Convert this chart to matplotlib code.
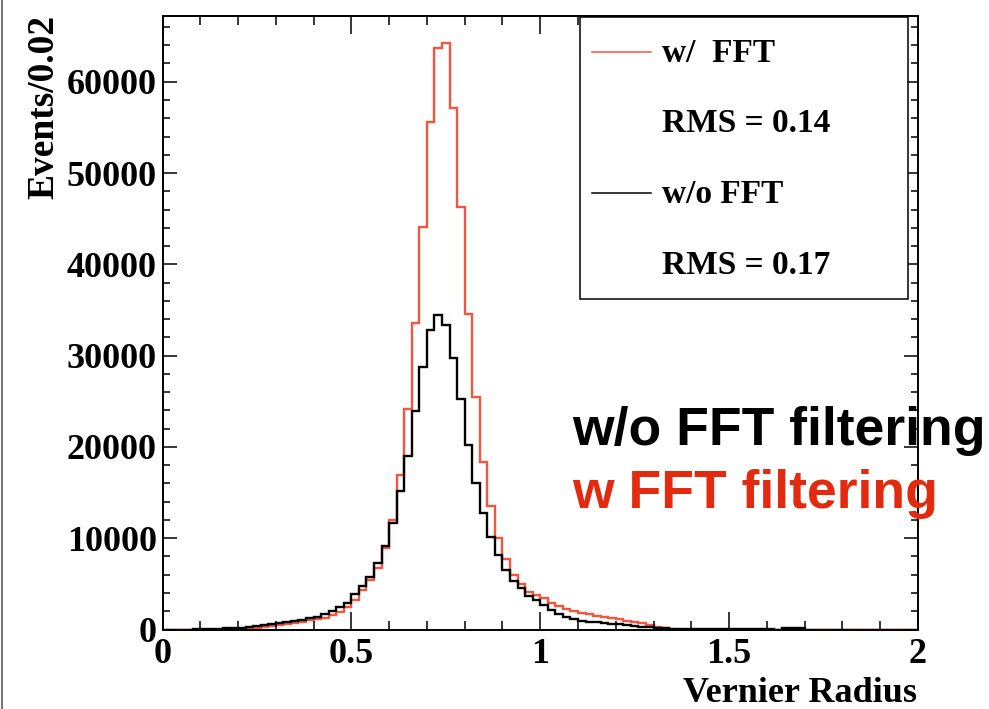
import numpy as np
import matplotlib
matplotlib.use("Agg")
import matplotlib.pyplot as plt
from matplotlib.patches import Rectangle
from matplotlib.lines import Line2D
from matplotlib.ticker import MultipleLocator

# binning: 100 bins of 0.02 between 0 and 2
x_lo, x_hi, n_bins = 0.0, 2.0, 100

# events per bin, with FFT filtering (red)
events_fft = [
    0, 0, 0, 0, 0, 0, 0, 0, 0, 0,
    0, 150, 200, 300, 380, 490, 580, 700, 850, 1000,
    1200, 1300, 1600, 1950, 2450, 3250, 4380, 5475, 6750, 8900,
    11970, 16880, 24150, 33600, 44100, 55600, 63700, 64200, 57100, 46300,
    34600, 25500, 18400, 13500, 10000, 7750, 5920, 4950, 4100, 3800,
    3450, 2940, 2580, 2250, 2030, 1840, 1680, 1530, 1390, 1260,
    1140, 950, 800, 660, 470, 300, 150, 100, 0, 0,
    0, 0, 0, 0, 0, 0, 0, 0, 0, 0,
    0, 0, 0, 0, 0, 0, 0, 0, 0, 0,
    0, 0, 0, 0, 0, 0, 0, 0, 0, 0,
]

# events per bin, without FFT filtering (black)
events_nofft = [
    0, 0, 0, 0, 60, 80, 90, 100, 120, 150,
    180, 250, 350, 480, 600, 760, 850, 950, 1080, 1290,
    1400, 1720, 2040, 2480, 2940, 3880, 4740, 5750, 7330, 9200,
    11680, 15220, 19050, 23900, 28730, 32800, 34400, 33400, 29750, 25260,
    20260, 16060, 12780, 10150, 8130, 6550, 5260, 4530, 3700, 3200,
    2650, 2120, 1680, 1390, 1140, 950, 850, 780, 660, 600,
    560, 470, 380, 300, 220, 150, 120, 100, 90, 80,
    70, 60, 50, 50, 40, 40, 30, 30, 30, 20,
    20, 0, 150, 150, 150, 0, 0, 0, 0, 0,
    0, 0, 0, 0, 0, 0, 0, 0, 0, 0,
]

legend_labels = ["w/  FFT", "w/o FFT"]
rms_labels = ["RMS = 0.14", "RMS = 0.17"]

W, H = 989, 709
RED = "#f4553f"
SERIF = "Liberation Serif"
SANS = "Liberation Sans"


def fx(x):
    return x / W


def fy(y):
    return 1 - y / H


edges = np.linspace(x_lo, x_hi, n_bins + 1)

fig = plt.figure(figsize=(W / 100, H / 100), dpi=100)
ax = fig.add_axes([fx(162.5), fy(629.5), fx(918) - fx(162.5), fy(16) - fy(629.5)])

ax.stairs(events_fft, edges, color=RED, lw=1.7)
ax.stairs(events_nofft, edges, color="black", lw=1.7)

ax.set_xlim(0, 2)
ax.set_ylim(0, 67200)
for s in ax.spines.values():
    s.set_linewidth(1.4)

ax.xaxis.set_major_locator(MultipleLocator(0.5))
ax.xaxis.set_minor_locator(MultipleLocator(0.1))
ax.yaxis.set_major_locator(MultipleLocator(10000))
ax.yaxis.set_minor_locator(MultipleLocator(2000))
ax.tick_params(axis="both", which="both", direction="in", top=True, right=True, width=1.1)
ax.tick_params(axis="x", which="major", length=13, pad=6)
ax.tick_params(axis="x", which="minor", length=6.5)
ax.tick_params(axis="y", which="major", length=10, pad=4)
ax.tick_params(axis="y", which="minor", length=5)
ax.set_xticks([0, 0.5, 1, 1.5, 2], ["0", "0.5", "1", "1.5", "2"])
for lab in ax.get_xticklabels() + ax.get_yticklabels():
    lab.set_fontfamily(SERIF)
    lab.set_fontweight("bold")
    lab.set_fontsize(26)

fig.text(fx(917), fy(701.5), "Vernier Radius", ha="right", va="baseline",
         fontsize=26, fontweight="bold", family=SERIF)
fig.text(fx(44), fy(15), "Events/0.02", ha="center", va="top", rotation=90,
         fontsize=27, fontweight="bold", family=SERIF)

# legend box
fig.patches.append(Rectangle((fx(580), fy(299.3)), fx(908) - fx(580), fy(16.7) - fy(299.3),
                             transform=fig.transFigure, facecolor="white",
                             edgecolor="black", lw=1.1, zorder=5))
for col, yl in [(RED, 51.7), ("black", 193.3)]:
    fig.lines.append(Line2D([fx(591.7), fx(650.7)], [fy(yl), fy(yl)],
                            transform=fig.transFigure, color=col, lw=1.1, zorder=6))
for txt, yb in zip([legend_labels[0], rms_labels[0], legend_labels[1], rms_labels[1]],
                   [61.7, 131.7, 203.3, 274]):
    fig.text(fx(661.7), fy(yb), txt, ha="left", va="baseline", fontsize=24,
             fontweight="bold", family=SERIF, zorder=7)

# overlay annotation
fig.text(fx(571.7), fy(444.5), "w/o FFT filtering", ha="left", va="baseline",
         fontsize=38.5, fontweight="bold", family=SANS, color="black")
fig.text(fx(571.7), fy(508.3), "w FFT filtering", ha="left", va="baseline",
         fontsize=38.5, fontweight="bold", family=SANS, color="#e32a0e")

# thin grey border on the left edge
fig.lines.append(Line2D([fx(1.5), fx(1.5)], [0, 1], transform=fig.transFigure,
                        color="#777777", lw=1.5))

fig.savefig("out.png", dpi=100)
